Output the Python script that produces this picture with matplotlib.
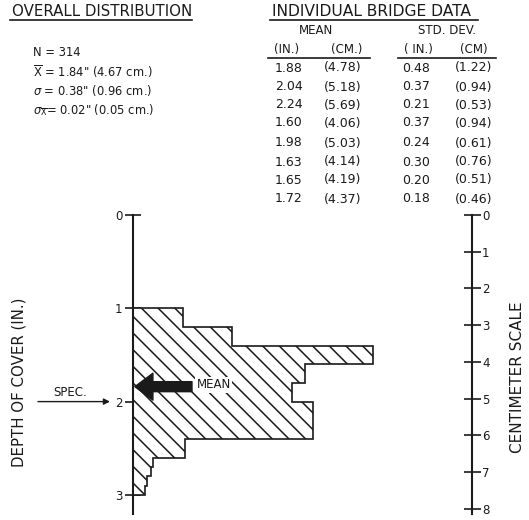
import matplotlib
matplotlib.use("Agg")
import matplotlib.pyplot as plt
import numpy as np

# ---------------- data ----------------
depth_edges = [1.0, 1.2, 1.4, 1.6, 1.8, 2.0, 2.2, 2.4, 2.6, 2.7, 2.8, 2.9, 3.0]
freq = [13.5, 26.7, 64.7, 46.4, 42.9, 48.5, 48.5, 14.0, 5.4, 4.9, 3.8, 3.2]

overall_n = 314
overall_mean_in = 1.84
overall_mean_cm = 4.67
overall_sd_in = 0.38
overall_sd_cm = 0.96
overall_se_in = 0.02
overall_se_cm = 0.05
spec_depth = 2.0

mean_in = [1.88, 2.04, 2.24, 1.60, 1.98, 1.63, 1.65, 1.72]
mean_cm = [4.78, 5.18, 5.69, 4.06, 5.03, 4.14, 4.19, 4.37]
sd_in = [0.48, 0.37, 0.21, 0.37, 0.24, 0.30, 0.20, 0.18]
sd_cm = [1.22, 0.94, 0.53, 0.94, 0.61, 0.76, 0.51, 0.46]

in_ticks = [0, 1, 2, 3]
cm_ticks = [0, 1, 2, 3, 4, 5, 6, 7, 8]

# ---------------- layout ----------------
W, H, DPI = 529, 520, 100
fig = plt.figure(figsize=(W / DPI, H / DPI), dpi=DPI)
fig.patch.set_facecolor("white")
plt.rcParams["hatch.linewidth"] = 1.1
plt.rcParams["mathtext.fontset"] = "dejavusans"

def fx(px):
    return px / W

def fy(py):
    return 1 - py / H

def pt(px):
    return px * 72 / DPI

FONT = "DejaVu Sans"
ink = "#1a1a1a"

# histogram axes: left spine at x=133 px, depth 0 at y=215 px, 93.3 px / inch
px_per_in = 93.3
px_per_unit = 3.71
x0, x1 = 133, 472
y_top = 215
ymax = 3.2
y_bot = y_top + ymax * px_per_in
ax = fig.add_axes([fx(x0), fy(y_bot), (x1 - x0) / W, (y_bot - y_top) / H])
ax.set_xlim(0, (x1 - x0) / px_per_unit)
ax.set_ylim(ymax, 0)
ax.patch.set_alpha(0)

ax.stairs(freq, depth_edges, orientation="horizontal", baseline=0, fill=True,
          facecolor="white", edgecolor=ink, hatch="\\\\", linewidth=1.2, zorder=2)

for s in ["top", "bottom", "right"]:
    ax.spines[s].set_visible(False)
ax.spines["left"].set_linewidth(1.5)
ax.spines["left"].set_color(ink)
ax.spines["left"].set_zorder(3)
ax.set_xticks([])
ax.set_yticks(in_ticks)
ax.set_yticklabels([str(t) for t in in_ticks], fontsize=8.5, fontfamily=FONT, color=ink)
ax.tick_params(axis="y", direction="inout", length=pt(16), width=1.2, pad=2, colors=ink)

# centimeter scale on the right
sec = ax.secondary_yaxis("right", functions=(lambda d: d * 2.54, lambda c: c / 2.54))
sec.set_yticks(cm_ticks)
sec.set_yticklabels([str(t) for t in cm_ticks], fontsize=8.5, fontfamily=FONT, color=ink)
sec.tick_params(direction="inout", length=pt(17), width=1.2, pad=1, colors=ink)
sec.spines["right"].set_linewidth(1.5)
sec.spines["right"].set_color(ink)
sec.set_ylabel("CENTIMETER SCALE", fontsize=11, fontfamily=FONT, color=ink,
               rotation=90)
sec.yaxis.set_label_coords(fx(517), fy(377), transform=fig.transFigure)
sec.yaxis.label.set_va("center")

ax.set_ylabel("DEPTH OF COVER (IN.)", fontsize=10.8, fontfamily=FONT, color=ink)
ax.yaxis.set_label_coords(fx(19), fy(382), transform=fig.transFigure)
ax.yaxis.label.set_va("center")

# mean arrow
ax.annotate("", xy=(0.5, overall_mean_in), xytext=(15.9, overall_mean_in),
            arrowprops=dict(arrowstyle="simple,head_length=1.3,head_width=1.94,tail_width=0.72",
                            mutation_scale=10, facecolor=ink, edgecolor=ink,
                            shrinkA=0, shrinkB=0), zorder=4)
ax.text(17.1, overall_mean_in - 0.02, "MEAN", fontsize=8.5, fontfamily=FONT, color=ink,
        ha="left", va="center", zorder=4,
        bbox=dict(facecolor="white", edgecolor="none", pad=1))

# spec arrow
ax.annotate("", xy=(110, spec_depth), xytext=(38, spec_depth),
            xycoords=("figure pixels", "data"), textcoords=("figure pixels", "data"),
            arrowprops=dict(arrowstyle="-|>", color=ink, lw=1.0,
                            mutation_scale=9, shrinkA=0, shrinkB=0),
            annotation_clip=False)
fig.text(fx(53), fy(393), "SPEC.", fontsize=8.5, fontfamily=FONT, color=ink,
         ha="left", va="center")

# ---------------- overall distribution block ----------------
fig.text(fx(12), fy(12), "OVERALL DISTRIBUTION", fontsize=10.8, fontfamily=FONT,
         color=ink, ha="left", va="center")
fig.add_artist(plt.Line2D([fx(10), fx(192)], [fy(20), fy(20)], color=ink, lw=1.2))

ov_lines = [
    f"N = {overall_n}",
    rf'$\overline{{\mathrm{{X}}}}$ = {overall_mean_in:.2f}" ({overall_mean_cm:.2f} cm.)',
    rf'$\sigma$ = {overall_sd_in:.2f}" ({overall_sd_cm:.2f} cm.)',
    rf'$\sigma_{{\overline{{\mathrm{{X}}}}}}$= {overall_se_in:.2f}" ({overall_se_cm:.2f} cm.)',
]
for i, s in enumerate(ov_lines):
    fig.text(fx(33), fy(53 + i * 19), s, fontsize=8.3, fontfamily=FONT, color=ink,
             ha="left", va="center")

# ---------------- individual bridge data ----------------
fig.text(fx(272), fy(12), "INDIVIDUAL BRIDGE DATA", fontsize=11.2, fontfamily=FONT,
         color=ink, ha="left", va="center")
fig.add_artist(plt.Line2D([fx(270), fx(478)], [fy(20), fy(20)], color=ink, lw=1.2))
fig.text(fx(316), fy(31), "MEAN", fontsize=8.5, fontfamily=FONT, color=ink,
         ha="center", va="center")
fig.text(fx(447), fy(31), "STD. DEV.", fontsize=8.5, fontfamily=FONT, color=ink,
         ha="center", va="center")
hdr = [(287, "(IN.)"), (347, "(CM.)"), (418, "( IN.)"), (474, "(CM)")]
for xp, s in hdr:
    fig.text(fx(xp), fy(50), s, fontsize=8.5, fontfamily=FONT, color=ink,
             ha="center", va="center")
fig.add_artist(plt.Line2D([fx(268), fx(370)], [fy(58), fy(58)], color=ink, lw=1.2))
fig.add_artist(plt.Line2D([fx(398), fx(496)], [fy(58), fy(58)], color=ink, lw=1.2))

row_y = [68, 87, 105, 123, 143, 162, 180, 199]
for i in range(len(mean_in)):
    y = fy(row_y[i])
    fig.text(fx(275), y, f"{mean_in[i]:.2f}", fontsize=9, fontfamily=FONT, color=ink,
             ha="left", va="center")
    fig.text(fx(324), y, f"({mean_cm[i]:.2f})", fontsize=9, fontfamily=FONT, color=ink,
             ha="left", va="center")
    fig.text(fx(402), y, f"{sd_in[i]:.2f}", fontsize=9, fontfamily=FONT, color=ink,
             ha="left", va="center")
    fig.text(fx(455), y, f"({sd_cm[i]:.2f})", fontsize=9, fontfamily=FONT, color=ink,
             ha="left", va="center")

fig.savefig("out.png", dpi=DPI, facecolor="white")
